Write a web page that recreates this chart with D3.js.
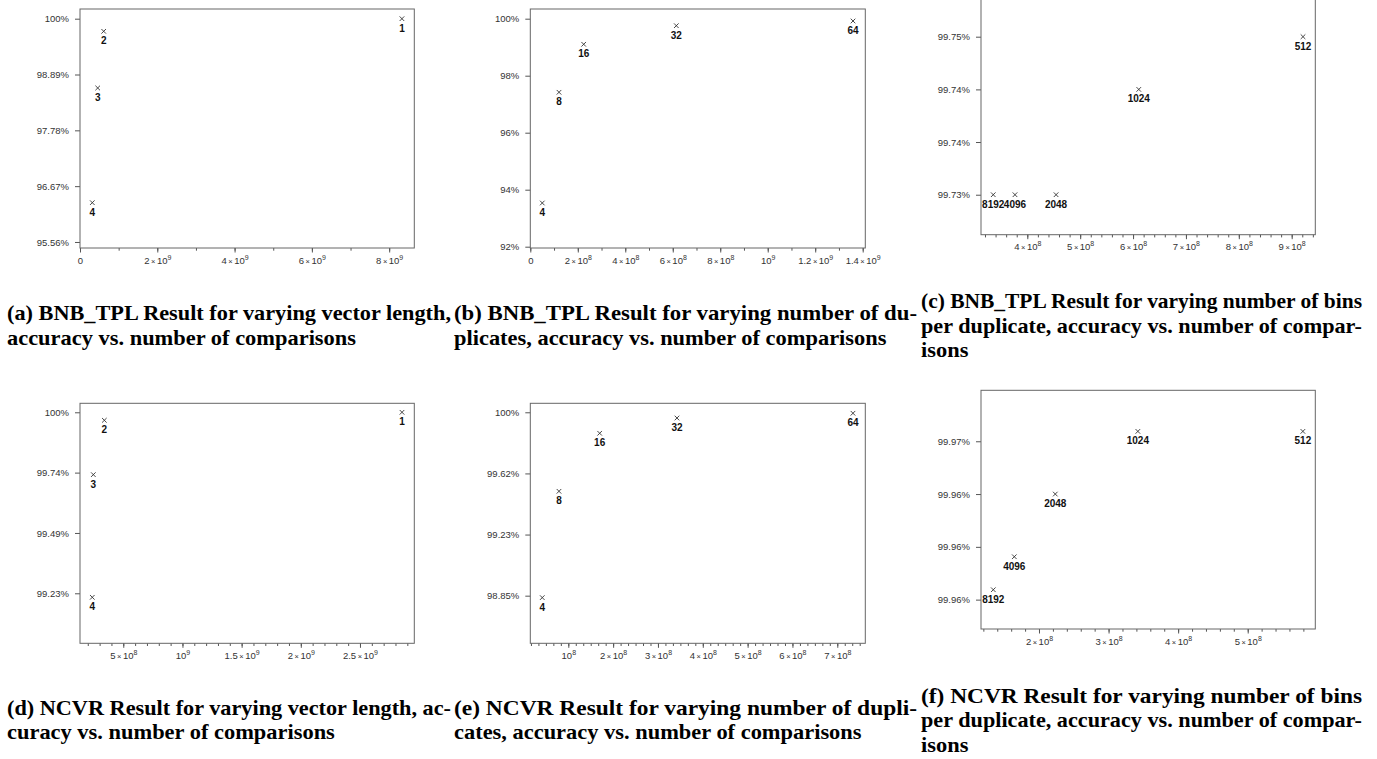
<!DOCTYPE html>
<html>
<head>
<meta charset="utf-8">
<script src="https://cdn.jsdelivr.net/npm/d3@7"></script>
<style>
  body { margin: 0; background: #fff; }
  svg { display: block; }
</style>
</head>
<body>
<svg id="fig" width="1377" height="759"></svg>
<script>
// (a) BNB_TPL, varying vector length
const bnbLenLabels = ["1", "2", "3", "4"];
const bnbLenComparisons = [8.33e9, 6.13e8, 4.58e8, 3.18e8];
const bnbLenAccuracy = [100, 99.749, 98.621, 96.338];
const bnbLenXTicks = [0, 2e9, 4e9, 6e9, 8e9];
const bnbLenYTicks = [95.556, 96.667, 97.778, 98.889, 100];
const bnbLenYTickLabels = ["95.56%", "96.67%", "97.78%", "98.89%", "100%"];

// (b) BNB_TPL, varying number of duplicates
const bnbDupLabels = ["4", "8", "16", "32", "64"];
const bnbDupComparisons = [5.05e7, 1.209e8, 2.249e8, 6.15e8, 1.3593e9];
const bnbDupAccuracy = [93.533, 97.418, 99.102, 99.754, 99.919];
const bnbDupXTicks = [0, 2e8, 4e8, 6e8, 8e8, 1e9, 1.2e9, 1.4e9];
const bnbDupYTicks = [92, 94, 96, 98, 100];
const bnbDupYTickLabels = ["92%", "94%", "96%", "98%", "100%"];

// (c) BNB_TPL, varying number of bins per duplicate
const bnbBinLabels = ["8192", "4096", "2048", "1024", "512"];
const bnbBinComparisons = [3.356e8, 3.767e8, 4.544e8, 6.108e8, 9.214e8];
const bnbBinAccuracy = [99.73, 99.73, 99.73, 99.74333, 99.75];
const bnbBinXTicks = [4e8, 5e8, 6e8, 7e8, 8e8, 9e8];
const bnbBinYTicks = [99.73, 99.73667, 99.74333, 99.75];
const bnbBinYTickLabels = ["99.73%", "99.74%", "99.74%", "99.75%"];

// (d) NCVR, varying vector length
const ncvrLenLabels = ["1", "2", "3", "4"];
const ncvrLenComparisons = [2.855e9, 3.40e8, 2.47e8, 2.38e8];
const ncvrLenAccuracy = [100, 99.966, 99.735, 99.2138];
const ncvrLenXTicks = [5e8, 1e9, 1.5e9, 2e9, 2.5e9];
const ncvrLenYTicks = [99.2308, 99.4872, 99.7436, 100];
const ncvrLenYTickLabels = ["99.23%", "99.49%", "99.74%", "100%"];

// (e) NCVR, varying number of duplicates
const ncvrDupLabels = ["4", "8", "16", "32", "64"];
const ncvrDupComparisons = [4.19e7, 7.92e7, 1.70e8, 3.424e8, 7.35e8];
const ncvrDupAccuracy = [98.834, 99.503, 99.868, 99.964, 99.994];
const ncvrDupXTicks = [1e8, 2e8, 3e8, 4e8, 5e8, 6e8, 7e8];
const ncvrDupYTicks = [98.8462, 99.2308, 99.6154, 100];
const ncvrDupYTickLabels = ["98.85%", "99.23%", "99.62%", "100%"];

// (f) NCVR, varying number of bins per duplicate
const ncvrBinLabels = ["8192", "4096", "2048", "1024", "512"];
const ncvrBinComparisons = [1.343e8, 1.645e8, 2.234e8, 3.421e8, 5.793e8];
const ncvrBinAccuracy = [99.9561, 99.9581, 99.9619, 99.9657, 99.9657];
const ncvrBinXTicks = [2e8, 3e8, 4e8, 5e8];
const ncvrBinYTicks = [99.9555, 99.9587, 99.9619, 99.9651];
const ncvrBinYTickLabels = ["99.96%", "99.96%", "99.96%", "99.97%"];

// captions
const captionA = ["(a) BNB_TPL Result for varying vector length,", "accuracy vs. number of comparisons"];
const captionB = ["(b) BNB_TPL Result for varying number of du-", "plicates, accuracy vs. number of comparisons"];
const captionC = ["(c) BNB_TPL Result for varying number of bins", "per duplicate, accuracy vs. number of compar-", "isons"];
const captionD = ["(d) NCVR Result for varying vector length, ac-", "curacy vs. number of comparisons"];
const captionE = ["(e) NCVR Result for varying number of dupli-", "cates, accuracy vs. number of comparisons"];
const captionF = ["(f) NCVR Result for varying number of bins", "per duplicate, accuracy vs. number of compar-", "isons"];

const svg = d3.select("#fig");
const axisFont = "'Liberation Sans', Arial, sans-serif";

const panels = [
  { labels: bnbLenLabels, xs: bnbLenComparisons, ys: bnbLenAccuracy, xTicks: bnbLenXTicks, yTicks: bnbLenYTicks, yTickLabels: bnbLenYTickLabels,
    left: 80, right: 414.3, top: 9, bottom: 248, xDomain: [0, 8.65e9], yDomain: [95.436, 100.193], minorStep: 1e9 },
  { labels: bnbDupLabels, xs: bnbDupComparisons, ys: bnbDupAccuracy, xTicks: bnbDupXTicks, yTicks: bnbDupYTicks, yTickLabels: bnbDupYTickLabels,
    left: 530.3, right: 865.3, top: 9, bottom: 248, xDomain: [0, 1.411e9], yDomain: [91.954, 100.34], minorStep: 1e8 },
  { labels: bnbBinLabels, xs: bnbBinComparisons, ys: bnbBinAccuracy, xTicks: bnbBinXTicks, yTicks: bnbBinYTicks, yTickLabels: bnbBinYTickLabels,
    left: 981, right: 1315.3, top: -4, bottom: 234.7, xDomain: [3.1244e8, 9.4463e8], yDomain: [99.72494, 99.75515], minorStep: 2e7 },
  { labels: ncvrLenLabels, xs: ncvrLenComparisons, ys: ncvrLenAccuracy, xTicks: ncvrLenXTicks, yTicks: ncvrLenYTicks, yTickLabels: ncvrLenYTickLabels,
    left: 80, right: 414.3, top: 403.3, bottom: 643.3, xDomain: [1.343e8, 2.959e9], yDomain: [99.0183, 100.0382], minorStep: 1e8 },
  { labels: ncvrDupLabels, xs: ncvrDupComparisons, ys: ncvrDupAccuracy, xTicks: ncvrDupXTicks, yTicks: ncvrDupYTicks, yTickLabels: ncvrDupYTickLabels,
    left: 530.3, right: 865.3, top: 403.3, bottom: 643.3, xDomain: [1.523e7, 7.625e8], yDomain: [98.5466, 100.0566], minorStep: 1e8 / 6 },
  { labels: ncvrBinLabels, xs: ncvrBinComparisons, ys: ncvrBinAccuracy, xTicks: ncvrBinXTicks, yTicks: ncvrBinYTicks, yTickLabels: ncvrBinYTickLabels,
    left: 981, right: 1315.3, top: 390.3, bottom: 629, xDomain: [1.1663e8, 5.9716e8], yDomain: [99.95372, 99.96819], minorStep: 2e7 }
];

// "2 × 10^9" style tick label
function sciLabel(t, v) {
  if (v === 0) { t.text("0"); return; }
  const e = Math.floor(Math.log10(v) + 1e-9);
  const m = +(v / Math.pow(10, e)).toFixed(2);
  if (m !== 1) {
    t.append("tspan").text(m);
    t.append("tspan").attr("font-size", 7.5).text("\u2009\u00d7\u2009");
  }
  t.append("tspan").text("10");
  t.append("tspan").attr("font-size", 7).attr("dy", -4).text(e);
}

panels.forEach(p => {
  const g = svg.append("g");
  const x = d3.scaleLinear().domain(p.xDomain).range([p.left, p.right]);
  const y = d3.scaleLinear().domain(p.yDomain).range([p.bottom, p.top]);

  // minor x ticks
  const step = p.minorStep;
  const minors = d3.range(Math.ceil(p.xDomain[0] / step - 1e-6), Math.floor(p.xDomain[1] / step + 1e-6) + 1)
    .map(k => k * step);
  const minorAxis = g.append("g")
    .attr("transform", `translate(0,${p.bottom})`)
    .call(d3.axisBottom(x).tickValues(minors).tickSize(2.7).tickFormat(""));
  minorAxis.select(".domain").remove();
  minorAxis.selectAll("line").attr("stroke", "#555");

  // major x ticks
  const xAxis = g.append("g")
    .attr("transform", `translate(0,${p.bottom})`)
    .call(d3.axisBottom(x).tickValues(p.xTicks).tickSize(4.5).tickFormat(""));
  xAxis.select(".domain").remove();
  xAxis.selectAll("line").attr("stroke", "#555");
  xAxis.selectAll(".tick text")
    .attr("y", 15.5).attr("dy", 0)
    .attr("font-family", axisFont).attr("font-size", 9.5).attr("fill", "#333")
    .each(function (v) { sciLabel(d3.select(this), v); });

  // y axis
  const yAxis = g.append("g")
    .attr("transform", `translate(${p.left},0)`)
    .call(d3.axisLeft(y).tickValues(p.yTicks).tickSize(5).tickPadding(6)
      .tickFormat((d, i) => p.yTickLabels[i]));
  yAxis.select(".domain").remove();
  yAxis.selectAll("line").attr("stroke", "#555");
  yAxis.selectAll("text")
    .attr("font-family", axisFont).attr("font-size", 9.5).attr("fill", "#333");

  // frame
  g.append("rect")
    .attr("x", p.left).attr("y", p.top)
    .attr("width", p.right - p.left).attr("height", p.bottom - p.top)
    .attr("fill", "none").attr("stroke", "#666").attr("stroke-width", 1);

  const pts = p.xs.map((v, i) => ({ x: v, y: p.ys[i], label: p.labels[i] }));

  g.append("g").selectAll("path")
    .data(pts)
    .join("path")
      .attr("transform", d => `translate(${x(d.x)},${y(d.y)})`)
      .attr("d", "M-2.3,-2.3L2.3,2.3M-2.3,2.3L2.3,-2.3")
      .attr("stroke", "#333")
      .attr("stroke-width", 0.9)
      .attr("fill", "none");

  g.append("g").selectAll("text")
    .data(pts)
    .join("text")
      .attr("x", d => x(d.x))
      .attr("y", d => y(d.y) + 13)
      .attr("text-anchor", "middle")
      .attr("font-family", axisFont)
      .attr("font-size", 10)
      .attr("font-weight", "bold")
      .attr("fill", "#111")
      .text(d => d.label);
});

// captions, justified like the paper's subcaptions
const captions = [
  { lines: captionA, x: 7, width: 444, base: 320 },
  { lines: captionB, x: 454, width: 463, base: 320 },
  { lines: captionC, x: 921, width: 441, base: 308 },
  { lines: captionD, x: 7, width: 444, base: 714.6 },
  { lines: captionE, x: 454, width: 463, base: 714.6 },
  { lines: captionF, x: 921, width: 441, base: 702.6 }
];
const lineHeight = 24.5;

const capG = svg.append("g")
  .attr("font-family", "'Liberation Serif'")
  .attr("font-size", 21)
  .attr("font-weight", "bold")
  .attr("fill", "#000");

// calibrate the narrower look of the original serif against one free line
const probe = capG.append("text").text(captionA[1]);
const squeeze = 349 / probe.node().getComputedTextLength();
probe.remove();

captions.forEach(c => {
  c.lines.forEach((line, i) => {
    const t = capG.append("text")
      .attr("x", c.x)
      .attr("y", c.base + i * lineHeight)
      .text(line);
    const last = i === c.lines.length - 1;
    const w = last ? t.node().getComputedTextLength() * squeeze : c.width;
    t.attr("textLength", w).attr("lengthAdjust", "spacingAndGlyphs");
  });
});
</script>
</body>
</html>
